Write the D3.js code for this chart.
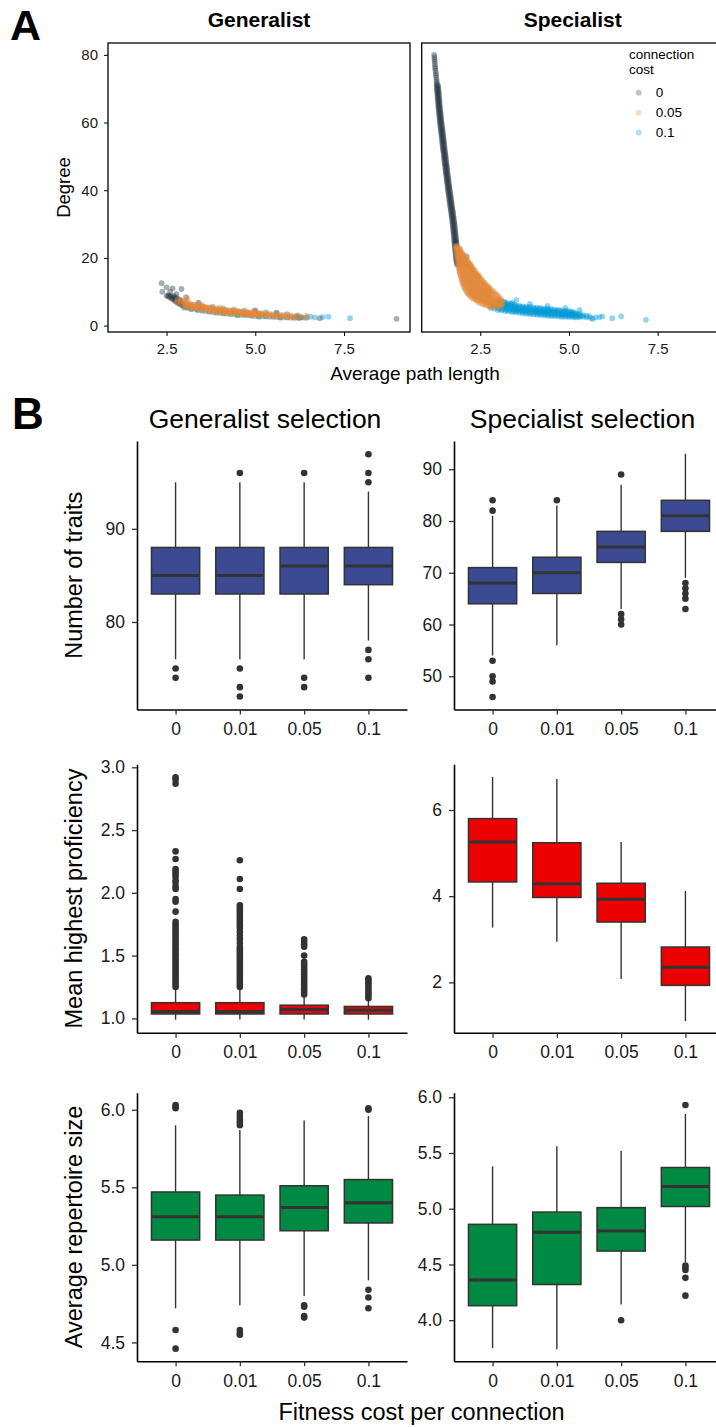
<!DOCTYPE html>
<html><head><meta charset="utf-8">
<script src="https://cdn.jsdelivr.net/npm/d3@7"></script>
<style>body{margin:0;background:#fff}svg{display:block}</style>
</head><body><svg id="c" width="716" height="1427"></svg>
<script>
// ================= DATA =================
// Panel A: scatter (x = average path length, y = degree)
const connCosts = ["0", "0.05", "0.1"];
const facetsA = ["Generalist", "Specialist"];
const xTicksA = [2.5, 5.0, 7.5];
const yTicksA = [0, 20, 40, 60, 80];

// Generalist, cost 0 (sparse points [x,y] and dense columns [x, y...])
const genGraySparse = [[2.36,12.5],[2.50,11.3],[2.67,11.0],[2.92,10.8],[2.38,10.0],[2.50,8.8],[2.78,9.3],[2.60,10.0],[3.05,8.4],[3.4,6.8],[4.99,4.4],[5.6,3.8],[6.17,2.7],[6.30,2.4],[6.82,2.2],[8.98,2.0]];
const genGrayCols = [[2.55,8.6,9.0],[2.60,8.3,8.8],[2.65,7.9,8.5],[2.70,7.6,8.2,8.8],[2.75,7.2,7.8,8.4],[2.80,6.8,7.4,8.0],[2.85,6.5,7.1,7.7],[2.90,6.2,6.8,7.4],[2.95,5.9,6.5],[3.00,5.6,6.2],[3.10,5.3,5.8],[3.20,5.0],[3.35,4.7],[3.50,4.4],[3.70,4.1],[3.90,3.8],[4.10,3.6],[4.30,3.4],[4.50,3.3],[4.70,3.1],[4.90,2.9],[5.10,2.8],[5.30,2.7],[5.50,2.6],[5.70,2.5],[5.90,2.4],[6.10,2.3],[6.25,2.3]];
// Generalist, cost 0.1
const genBlueSparse = [[6.45,2.4],[6.55,2.6],[6.68,2.4],[6.90,2.5],[7.06,2.6],[7.67,2.2],[4.5,3.0],[5.1,2.6],[5.7,2.3]];
const genBlueCols = [[3.0,5.2],[3.2,4.8],[3.4,4.5],[3.5,6.0],[3.6,4.2],[3.8,3.9,5.6],[4.0,3.7],[4.1,5.1],[4.2,3.5],[4.4,3.3,4.8],[4.6,3.1],[4.7,4.5],[4.8,3.0],[5.0,2.8,4.2],[5.2,2.7],[5.3,3.9],[5.4,2.6],[5.6,2.5,3.6],[5.8,2.4],[5.9,3.4],[6.0,2.3],[6.2,2.3,3.0],[6.4,2.3]];
// Generalist, cost 0.05
const genOrangeSparse = [[3.10,7.9],[3.4,6.6],[4.0,5.4],[5.0,4.5],[6.45,2.9]];
const genOrangeCols = [[2.80,7.0,7.6],[2.90,6.5,7.1,7.6],[3.00,5.6,6.2,6.8,7.3],[3.05,5.5,6.1,6.7,7.2],[3.10,5.4,6.0,6.6],[3.15,5.3,5.9,6.5],[3.20,5.3,5.8,6.3],[3.25,5.2,5.7,6.2],[3.30,5.1,5.6,6.1],[3.35,5.0,5.5,6.0],[3.40,5.0,5.5,5.9],[3.45,4.9,5.4,5.8],[3.50,4.9,5.3,5.7],[3.55,4.8,5.2,5.6],[3.60,4.7,5.1,5.5],[3.65,4.6,5.0,5.4],[3.70,4.5,5.0,5.4],[3.75,4.4,4.9,5.3],[3.80,4.3,4.8,5.2],[3.85,4.2,4.7,5.1],[3.90,4.1,4.5,5.0],[3.95,4.1,4.5,4.9],[4.00,4.0,4.4,4.8],[4.05,3.9,4.3,4.7],[4.10,3.9,4.3,4.7],[4.15,3.8,4.2,4.6],[4.20,3.8,4.2,4.6],[4.25,3.8,4.1,4.5],[4.30,3.8,4.1,4.5],[4.35,3.7,4.0,4.4],[4.40,3.7,4.0,4.4],[4.45,3.6,4.0,4.3],[4.50,3.6,3.9,4.3],[4.55,3.5,3.9,4.2],[4.60,3.5,3.9,4.2],[4.65,3.4,3.8,4.1],[4.70,3.4,3.8,4.1],[4.75,3.3,3.7,4.0],[4.80,3.3,3.6,4.0],[4.85,3.2,3.6,3.9],[4.90,3.2,3.6,3.9],[4.95,3.2,3.5,3.8],[5.00,3.2,3.5,3.8],[5.05,3.1,3.4,3.7],[5.10,3.1,3.4,3.7],[5.15,3.0,3.3,3.6],[5.20,3.0,3.3,3.6],[5.30,3.0,3.3,3.6],[5.40,2.9,3.2,3.5],[5.50,2.8,3.1,3.4],[5.60,2.7,3.0,3.3],[5.70,2.6,2.9,3.2],[5.80,2.6,2.9,3.2],[5.90,2.5,2.8,3.1],[6.00,2.5,2.8,3.0],[6.10,2.5,2.8],[6.20,2.4,2.7],[6.30,2.5],[6.45,2.4]];

// Specialist, cost 0 (sparse [x,y], dense rows [y, x...])
const specGraySparse = [[1.20,80.0],[1.21,79.3],[1.21,78.7],[1.22,78.0],[1.22,77.3],[1.23,76.6],[1.23,76.0],[1.24,75.3],[1.25,74.6],[1.25,74.0],[1.26,73.3],[1.27,72.6],[1.27,72.0],[1.28,71.5],[2.12,20.4],[1.80,24.8]];
const specGrayRows = [[71,1.27,1.31],[70.5,1.28,1.31],[70,1.28,1.32],[69.5,1.28,1.32],[69,1.29,1.33],[68.5,1.29,1.33],[68,1.30,1.33],[67.5,1.30,1.34],[67,1.30,1.34],[66.5,1.31,1.35],[66,1.31,1.35],[65.5,1.32,1.35],[65,1.32,1.36],[64.5,1.32,1.36],[64,1.33,1.37],[63.5,1.33,1.37],[63,1.34,1.38],[62.5,1.34,1.38],[62,1.35,1.39],[61.5,1.35,1.39],[61,1.36,1.40],[60.5,1.36,1.40],[60,1.37,1.41],[59.5,1.37,1.41],[59,1.38,1.42],[58.5,1.38,1.43],[58,1.39,1.43],[57.5,1.39,1.44],[57,1.40,1.44],[56.5,1.41,1.45],[56,1.41,1.45],[55.5,1.42,1.46],[55,1.42,1.47],[54.5,1.43,1.47],[54,1.43,1.48],[53.5,1.44,1.48],[53,1.44,1.49],[52.5,1.45,1.49],[52,1.45,1.50],[51.5,1.46,1.50],[51,1.47,1.51],[50.5,1.47,1.52],[50,1.48,1.52],[49.5,1.48,1.53],[49,1.49,1.53],[48.5,1.49,1.54],[48,1.50,1.54],[47.5,1.51,1.55],[47,1.51,1.56],[46.5,1.52,1.56],[46,1.52,1.57],[45.5,1.53,1.57],[45,1.53,1.58],[44.5,1.54,1.58],[44,1.55,1.59],[43.5,1.55,1.60],[43,1.56,1.60],[42.5,1.56,1.61],[42,1.57,1.61],[41.5,1.58,1.62],[41,1.58,1.63],[40.5,1.59,1.63],[40,1.59,1.64],[39.5,1.60,1.65],[39,1.61,1.65],[38.5,1.61,1.66],[38,1.62,1.67],[37.5,1.63,1.67],[37,1.63,1.68],[36.5,1.64,1.69],[36,1.65,1.69],[35.5,1.65,1.70],[35,1.66,1.71],[34.5,1.67,1.71],[34,1.67,1.72],[33.5,1.68,1.73],[33,1.69,1.73],[32.5,1.69,1.74],[32,1.70,1.75],[31.5,1.71,1.75],[31,1.71,1.76],[30.5,1.72,1.77],[30,1.72,1.77],[29.5,1.73,1.78],[29,1.73,1.78],[28.5,1.74,1.79],[28,1.74,1.79],[27.5,1.75,1.80],[27,1.75,1.80],[26.5,1.76,1.81],[26,1.76,1.81],[25.5,1.77,1.82],[25,1.77,1.82],[24.5,1.77,1.83],[24,1.78,1.83],[23.5,1.78,1.84],[23,1.79,1.84],[22.5,1.79,1.85],[22,1.80,1.85],[21.5,1.80,1.86],[21,1.81,1.86],[20.5,1.81,1.87],[20,1.82,1.87],[19.5,1.82,1.88],[19,1.83,1.88],[18.5,1.84,1.89],[18,1.85,1.90]];
// Specialist, cost 0.1 (dense columns [x, y...])
const specBlueSparse = [[5.58,2.7],[5.63,2.2],[5.67,2.0],[5.75,2.4],[5.86,2.5],[5.94,2.7],[6.22,2.2],[6.47,2.7],[7.17,1.7],[3.52,7.6],[3.9,6.4],[4.4,5.8],[4.9,5.2],[5.3,4.6]];
const specBlueCols = [[2.80,5.2,5.8],[2.90,5.0,5.6,6.3],[3.00,4.6,5.3,6.0,6.8,7.5],[3.05,4.9,5.6,6.3,7.0],[3.10,4.5,5.2,5.9,6.6,7.3],[3.15,4.8,5.5,6.2,6.9],[3.20,4.3,5.0,5.7,6.4,7.0],[3.25,4.6,5.3,6.0,6.6],[3.30,4.2,4.9,5.6,6.3],[3.35,4.5,5.2,5.9,6.5],[3.40,4.0,4.7,5.4,6.1,6.8],[3.45,4.3,5.0,5.7,6.3],[3.50,3.9,4.6,5.3,6.0],[3.55,4.2,4.9,5.6],[3.60,3.8,4.5,5.2,5.9],[3.65,4.1,4.8,5.5],[3.70,3.6,4.3,5.0,5.7],[3.75,3.9,4.6,5.3],[3.80,3.5,4.2,4.9,5.6],[3.85,3.8,4.5,5.2],[3.90,3.4,4.1,4.8,5.5],[3.95,3.7,4.4,5.1],[4.00,3.3,4.0,4.7,5.4],[4.05,3.6,4.3,5.0],[4.10,3.2,3.9,4.6,5.3],[4.15,3.5,4.2,4.9],[4.20,3.1,3.8,4.5,5.2],[4.25,3.4,4.1,4.8],[4.30,3.0,3.7,4.4,5.1],[4.35,3.3,4.0,4.7],[4.40,2.9,3.6,4.3,5.0],[4.45,3.2,3.9,4.6],[4.50,2.8,3.5,4.2,4.9],[4.55,3.1,3.8,4.5],[4.60,2.8,3.4,4.1,4.7],[4.65,3.1,3.7,4.4],[4.70,2.7,3.4,4.0,4.6],[4.75,3.0,3.6,4.3],[4.80,2.6,3.3,3.9,4.5],[4.85,2.9,3.5,4.2],[4.90,2.6,3.2,3.8,4.4],[4.95,2.9,3.5,4.1],[5.00,2.5,3.1,3.7,4.3],[5.05,2.8,3.4,3.9],[5.10,2.5,3.1,3.6,4.1],[5.15,2.7,3.3,3.8],[5.20,2.4,3.0,3.6],[5.25,2.7,3.2],[5.30,2.5,3.0,3.5],[5.35,2.8],[5.40,2.6,3.1],[5.50,2.4,2.9]];
// Specialist, cost 0.05 (dense rows [y, x...])
const specOrangeRows = [[23.5,1.81,1.84],[23.1,1.83,1.88],[22.75,1.82,1.87,1.92],[22.4,1.84,1.90,1.95],[22,1.83,1.88,1.93],[21.6,1.85,1.91,1.97],[21.25,1.84,1.90,1.96,2.0],[20.9,1.86,1.93,1.99,2.04],[20.5,1.85,1.91,1.97,2.04],[20.1,1.87,1.94,2.00,2.07],[19.75,1.86,1.92,1.99,2.05,2.10],[19.4,1.88,1.95,2.02,2.09,2.13],[19,1.87,1.94,2.01,2.08,2.15],[18.6,1.89,1.97,2.04,2.11,2.18],[18.25,1.88,1.95,2.02,2.09,2.16,2.20],[17.9,1.90,1.98,2.06,2.13,2.20,2.24],[17.5,1.89,1.96,2.04,2.11,2.18,2.25],[17.1,1.91,1.99,2.07,2.15,2.23,2.28],[16.75,1.90,1.98,2.06,2.14,2.22,2.30],[16.4,1.92,2.01,2.10,2.19,2.28,2.33],[16,1.91,1.99,2.08,2.17,2.26,2.35],[15.6,1.93,2.03,2.12,2.21,2.30,2.38],[15.25,1.93,2.01,2.10,2.19,2.28,2.36,2.41],[14.9,1.95,2.05,2.14,2.23,2.32,2.41,2.45],[14.5,1.95,2.04,2.13,2.22,2.31,2.40,2.47],[14.1,1.97,2.07,2.16,2.25,2.34,2.43,2.50],[13.75,1.97,2.06,2.15,2.24,2.33,2.42,2.52],[13.4,1.99,2.10,2.19,2.28,2.37,2.46,2.55],[13,1.99,2.08,2.17,2.26,2.35,2.44,2.52,2.59],[12.6,2.01,2.12,2.21,2.30,2.39,2.48,2.57,2.62],[12.25,2.02,2.11,2.20,2.29,2.38,2.47,2.56,2.65],[11.9,2.04,2.15,2.24,2.33,2.42,2.51,2.60,2.68],[11.5,2.05,2.14,2.23,2.32,2.41,2.50,2.59,2.68,2.72],[11.1,2.07,2.18,2.27,2.36,2.45,2.54,2.63,2.72,2.76],[10.75,2.08,2.17,2.26,2.35,2.44,2.53,2.62,2.71,2.79],[10.4,2.10,2.21,2.30,2.39,2.48,2.57,2.66,2.75,2.83],[10,2.12,2.21,2.30,2.39,2.48,2.57,2.66,2.75,2.87],[9.6,2.15,2.25,2.34,2.43,2.52,2.61,2.70,2.79,2.91],[9.25,2.17,2.26,2.35,2.44,2.53,2.62,2.71,2.80,2.95],[8.9,2.20,2.30,2.39,2.48,2.57,2.66,2.75,2.84,2.98],[8.5,2.24,2.33,2.42,2.51,2.60,2.69,2.78,2.87,3.02],[8.1,2.28,2.37,2.46,2.55,2.64,2.73,2.82,2.91,3.05],[7.75,2.33,2.42,2.51,2.60,2.69,2.78,2.87,2.96,3.07],[7.4,2.38,2.47,2.56,2.65,2.74,2.83,2.92,3.01,3.09],[7,2.44,2.53,2.62,2.71,2.80,2.89,2.98,3.10],[6.6,2.50,2.60,2.69,2.78,2.87,2.96,3.05,3.12],[6.25,2.58,2.67,2.76,2.85,2.94,3.03,3.10],[5.9,2.66,2.75,2.84,2.93,3.02,3.10],[5.5,2.76,2.85,2.94,3.03]];

// Panel B: box plots, stats per cost level as [lower whisker, Q1, median, Q3, upper whisker]
const costLevels = ["0", "0.01", "0.05", "0.1"];
const traitsGenStats = [[76,83,85,88,95],[76,83,85,88,95],[76,83,86,88,95],[78,84,86,88,94]];
const traitsGenOut = [[75,74],[96,75,73,72],[96,74,73],[98,96,95,77,76,74]];
const traitsSpecStats = [[54,64,68,71,81],[56,66,70,73,83],[63,72,75,78,87],[69,78,81,84,93]];
const traitsSpecOut = [[84,82,53,50,49,46],[84],[89,62,61,60],[68,67,66,65,63]];

const profGenStats = [[0.99,1.035,1.055,1.125,1.23],[0.99,1.035,1.055,1.125,1.23],[0.99,1.035,1.07,1.105,1.18],[0.99,1.035,1.065,1.095,1.15]];
const profGenOut = [
  [1.25,1.27,1.29,1.31,1.33,1.35,1.37,1.39,1.41,1.43,1.45,1.47,1.49,1.51,1.53,1.55,1.57,1.59,1.61,1.63,1.65,1.67,1.69,1.71,1.73,1.75,1.77,1.85,1.93,1.95,2.03,2.05,2.08,2.10,2.13,2.15,2.17,2.19,2.27,2.33,2.87,2.90,2.92],
  [1.25,1.27,1.29,1.31,1.33,1.35,1.37,1.39,1.41,1.43,1.45,1.47,1.49,1.51,1.53,1.55,1.57,1.60,1.63,1.66,1.69,1.72,1.74,1.76,1.78,1.80,1.82,1.84,1.86,1.88,1.90,2.03,2.11,2.26],
  [1.19,1.21,1.23,1.25,1.27,1.29,1.31,1.33,1.35,1.37,1.39,1.41,1.43,1.45,1.50,1.57,1.59,1.61,1.63],
  [1.16,1.18,1.20,1.22,1.24,1.26,1.28,1.30,1.32]];
const profSpecStats = [[3.27,4.33,5.26,5.80,6.77],[2.94,3.97,4.29,5.24,6.72],[2.08,3.40,3.93,4.30,5.26],[1.10,1.93,2.35,2.82,4.12]];
const profSpecOut = [[],[],[],[]];

const repGenStats = [[4.72,5.16,5.31,5.47,5.90],[4.74,5.16,5.31,5.45,5.87],[4.80,5.22,5.37,5.51,5.93],[4.90,5.27,5.40,5.55,5.96]];
const repGenOut = [[6.03,6.02,6.01,4.58,4.46],[5.98,5.96,5.94,5.92,5.90,4.58,4.56,4.55],[4.74,4.73,4.67,4.66],[6.01,6.00,4.84,4.79,4.72]];
const repSpecStats = [[3.75,4.13,4.36,4.86,5.38],[3.74,4.32,4.79,4.97,5.56],[4.14,4.62,4.80,5.01,5.52],[4.52,5.02,5.20,5.37,5.85]];
const repSpecOut = [[],[],[4.00],[5.93,4.49,4.47,4.45,4.38,4.22]];

const yTicksTraitsGen = [80, 90];
const yTicksTraitsSpec = [50, 60, 70, 80, 90];
const yTicksProfGen = [1.0, 1.5, 2.0, 2.5, 3.0];
const yTicksProfSpec = [2, 4, 6];
const yTicksRepGen = [4.5, 5.0, 5.5, 6.0];
const yTicksRepSpec = [4.0, 4.5, 5.0, 5.5, 6.0];

// ================= DRAW =================
const FONT = '"Liberation Sans", Arial, Helvetica, sans-serif';
const svg = d3.select('#c').attr('font-family', FONT);
const fromCols = cols => cols.flatMap(([x, ...ys]) => ys.map(y => [x, y]));
const fromRows = rows => rows.flatMap(([y, ...xs]) => xs.map(x => [x, y]));
const colorA = d3.scaleOrdinal().domain(connCosts).range(["#2E3D48", "#E3883A", "#0099D6"]);
const ALPHA = 0.42;

const seriesA = [
  {facet: 0, cost: "0",    pts: genGraySparse.concat(fromCols(genGrayCols))},
  {facet: 0, cost: "0.1",  pts: genBlueSparse.concat(fromCols(genBlueCols))},
  {facet: 0, cost: "0.05", pts: genOrangeSparse.concat(fromCols(genOrangeCols))},
  {facet: 1, cost: "0",    pts: specGraySparse.concat(fromRows(specGrayRows))},
  {facet: 1, cost: "0.1",  pts: specBlueSparse.concat(fromCols(specBlueCols))},
  {facet: 1, cost: "0.05", pts: fromRows(specOrangeRows)}
];

// ---- Panel A ----
const AW = 302, AH = 289, ATop = 43, ALefts = [108, 421.7];
const xA = d3.scaleLinear().domain([0.85, 9.36]).range([0, AW]);
const yA = d3.scaleLinear().domain([-1.9, 83.5]).range([AH, 0]);

svg.append('text').attr('x', 10).attr('y', 39.5).attr('font-size', 43).attr('font-weight', 'bold').text('A');
svg.append('defs').append('clipPath').attr('id', 'clipA').append('rect').attr('width', AW).attr('height', AH);

facetsA.forEach((name, fi) => {
  const g = svg.append('g').attr('transform', `translate(${ALefts[fi]},${ATop})`);
  const pg = g.append('g').attr('clip-path', 'url(#clipA)');
  seriesA.filter(s => s.facet === fi).forEach(s => {
    pg.selectAll(null).data(s.pts).join('circle')
      .attr('cx', d => xA(d[0])).attr('cy', d => yA(d[1])).attr('r', 2.9)
      .attr('fill', colorA(s.cost)).attr('fill-opacity', ALPHA);
  });
  g.append('rect').attr('width', AW).attr('height', AH).attr('fill', 'none').attr('stroke', '#000').attr('stroke-width', 1.3);
  const xa = g.append('g').attr('transform', `translate(0,${AH})`)
    .call(d3.axisBottom(xA).tickValues(xTicksA).tickFormat(d3.format('.1f')).tickSize(4).tickPadding(7).tickSizeOuter(0));
  xa.select('.domain').remove();
  xa.selectAll('text').attr('font-size', 15).attr('fill', '#1a1a1a').attr('font-family', FONT);
  if (fi === 0) {
    const ya = g.append('g').call(d3.axisLeft(yA).tickValues(yTicksA).tickSize(4).tickPadding(6).tickSizeOuter(0));
    ya.select('.domain').remove();
    ya.selectAll('text').attr('font-size', 15).attr('fill', '#1a1a1a').attr('font-family', FONT);
  }
  g.append('text').attr('x', AW / 2).attr('y', 27.3 - ATop).attr('text-anchor', 'middle')
    .attr('font-size', 21).attr('font-weight', 'bold').text(name);
});
svg.append('text').attr('transform', 'translate(70,187.5) rotate(-90)').attr('text-anchor', 'middle').attr('font-size', 18.5).text('Degree');
svg.append('text').attr('x', 415).attr('y', 380).attr('text-anchor', 'middle').attr('font-size', 19).text('Average path length');

// legend
const lg = svg.append('g');
lg.append('text').attr('x', 629).attr('y', 59).attr('font-size', 13.5).text('connection');
lg.append('text').attr('x', 629).attr('y', 74).attr('font-size', 13.5).text('cost');
connCosts.forEach((c, i) => {
  const yy = [92.7, 112.7, 132.5][i];
  lg.append('circle').attr('cx', 638.7).attr('cy', yy).attr('r', 2.9).attr('fill', colorA(c)).attr('fill-opacity', 0.3);
  lg.append('text').attr('x', 655.7).attr('y', yy + 4.7).attr('font-size', 13.5).text(c);
});

// ---- Panel B ----
svg.append('text').attr('x', 12).attr('y', 429).attr('font-size', 44).attr('font-weight', 'bold').text('B');
svg.append('text').attr('x', 265).attr('y', 427.7).attr('text-anchor', 'middle').attr('font-size', 26.5).text('Generalist selection');
svg.append('text').attr('x', 582.5).attr('y', 427.7).attr('text-anchor', 'middle').attr('font-size', 26.5).text('Specialist selection');

const BW = 270, BH = 268.5;
function boxPanel(gx, gy, yDomain, yTicks, fmt, stats, outs, fill, title) {
  const g = svg.append('g').attr('transform', `translate(${gx},${gy})`);
  const x = d3.scalePoint().domain(costLevels).range([0, BW]).padding(0.6);
  const y = d3.scaleLinear().domain(yDomain).range([BH, 0]);
  const bw = x.step() * 0.75;
  const rows = costLevels.map((c, i) => ({c, s: stats[i], o: outs[i]}));
  const b = g.selectAll('g.box').data(rows).join('g').attr('class', 'box');
  b.append('line').attr('x1', d => x(d.c)).attr('x2', d => x(d.c))
    .attr('y1', d => y(d.s[4])).attr('y2', d => y(d.s[3])).attr('stroke', '#333').attr('stroke-width', 1.4);
  b.append('line').attr('x1', d => x(d.c)).attr('x2', d => x(d.c))
    .attr('y1', d => y(d.s[1])).attr('y2', d => y(d.s[0])).attr('stroke', '#333').attr('stroke-width', 1.4);
  b.append('rect').attr('x', d => x(d.c) - bw / 2).attr('y', d => y(d.s[3]))
    .attr('width', bw).attr('height', d => y(d.s[1]) - y(d.s[3]))
    .attr('fill', fill).attr('stroke', '#333').attr('stroke-width', 1.5);
  b.append('line').attr('x1', d => x(d.c) - bw / 2).attr('x2', d => x(d.c) + bw / 2)
    .attr('y1', d => y(d.s[2])).attr('y2', d => y(d.s[2])).attr('stroke', '#333').attr('stroke-width', 3);
  b.selectAll('circle').data(d => d.o.map(v => ({c: d.c, v}))).join('circle')
    .attr('cx', d => x(d.c)).attr('cy', d => y(d.v)).attr('r', 3.3).attr('fill', '#333');

  const ya = g.append('g').call(d3.axisLeft(y).tickValues(yTicks).tickFormat(fmt).tickSize(5).tickPadding(7).tickSizeOuter(0));
  const xa = g.append('g').attr('transform', `translate(0,${BH})`)
    .call(d3.axisBottom(x).tickSize(5).tickPadding(8).tickSizeOuter(0));
  [ya, xa].forEach(a => {
    a.select('.domain').attr('stroke', '#000').attr('stroke-width', 1.6);
    a.selectAll('.tick line').attr('stroke', '#333').attr('stroke-width', 1.3);
    a.selectAll('text').attr('font-size', 17.5).attr('fill', '#1a1a1a').attr('font-family', FONT);
  });
  if (title) {
    svg.append('text').attr('transform', `translate(81.5,${gy + BH / 2}) rotate(-90)`)
      .attr('text-anchor', 'middle').attr('font-size', 23.5).text(title);
  }
}
const f0 = d3.format('d'), f1 = d3.format('.1f');
const L = 137, R = 454, T1 = 441, T2 = 764.3, T3 = 1092.7;
boxPanel(L, T1, [70.6, 99.43], yTicksTraitsGen, f0, traitsGenStats, traitsGenOut, '#3B4A93', 'Number of traits');
boxPanel(R, T1, [43.58, 95.46], yTicksTraitsSpec, f0, traitsSpecStats, traitsSpecOut, '#3B4A93', null);
boxPanel(L, T2, [0.885, 3.024], yTicksProfGen, f1, profGenStats, profGenOut, '#EC0000', 'Mean highest proficiency');
boxPanel(R, T2, [0.83, 7.06], yTicksProfSpec, f0, profSpecStats, profSpecOut, '#EC0000', null);
boxPanel(L, T3, [4.379, 6.11], yTicksRepGen, f1, repGenStats, repGenOut, '#008942', 'Average repertoire size');
boxPanel(R, T3, [3.632, 6.041], yTicksRepSpec, f1, repSpecStats, repSpecOut, '#008942', null);

svg.append('text').attr('x', 421.5).attr('y', 1420).attr('text-anchor', 'middle').attr('font-size', 23.5).text('Fitness cost per connection');
</script></body></html>
